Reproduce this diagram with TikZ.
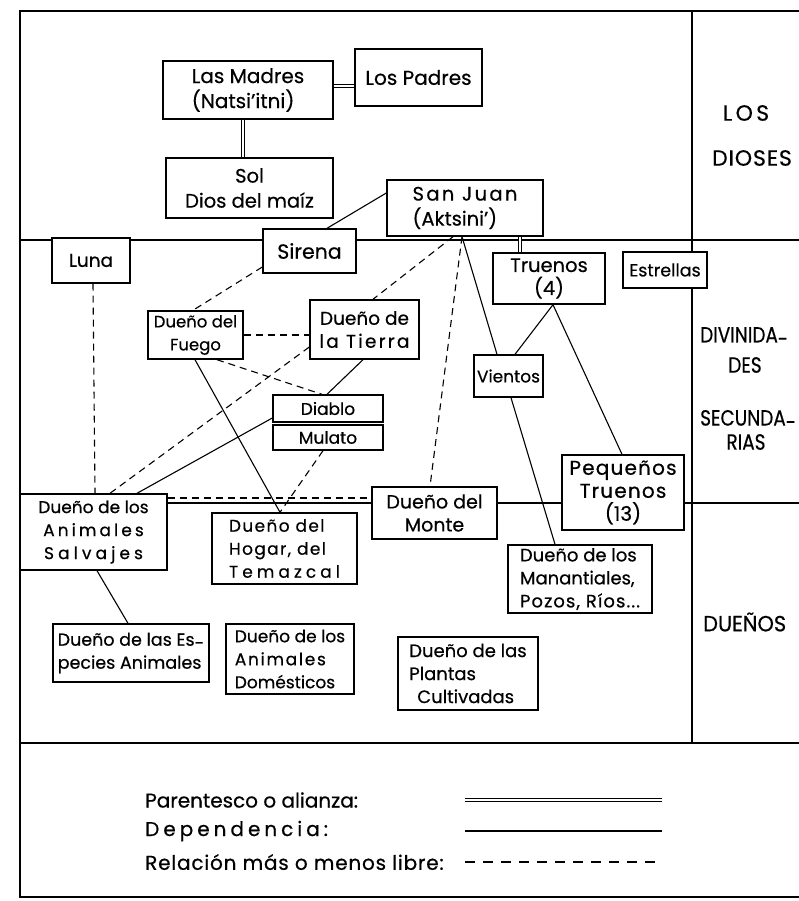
\documentclass[tikz,border=0pt]{standalone}
\usepackage{fontspec}
\setmainfont{Poppins}[FakeBold=0.5]
\usetikzlibrary{calc}
\newcommand\spaced[2][15]{{\addfontfeature{LetterSpace=#1}#2}}
\newcommand\fs[1]{\fontsize{#1}{23}\selectfont}
\newcommand\lowhy{\raisebox{-0.2em}{-}}
\tikzset{
 box/.style={draw, line width=1.4pt, fill=white, inner sep=0pt, font=\fs{17}, align=center},
 dep/.style={line width=1.1pt},
 libre/.style={line width=1.1pt, dash pattern=on 7pt off 5pt},
 parent/.style={double, double distance=2.2pt, line width=0.9pt},
 sect/.style={line width=1.6pt},
 lbl/.style={font=\fontsize{22}{26}\selectfont, align=center, inner sep=0pt},
 leg/.style={font=\fontsize{20}{24}\selectfont, anchor=west, inner sep=0pt},
}
\begin{document}
\begin{tikzpicture}[x=1pt,y=-1pt]
\useasboundingbox[fill=white] (0,0) rectangle (799,901);
\clip (0,0) rectangle (799,901);
% frame and sections
\draw[sect] (820,11) -- (20,11) -- (20,897) -- (820,897);
\draw[sect] (20,240) -- (820,240);
\draw[sect] (20,503) -- (820,503);
\draw[sect] (20,743) -- (820,743);
\draw[sect] (692,11) -- (692,743);
% section labels
\node[lbl] (s1) at (746,113) {\spaced[15]{LOS}};
\node[lbl] (s2) at (752,158) {\spaced[4]{DIOSES}};
\node[lbl, anchor=west] (s3) at (700,337) {\scalebox{0.84}[1]{DIVINIDA\lowhy}};
\node[lbl] (s4) at (745,365) {\scalebox{0.84}[1]{DES}};
\node[lbl, anchor=west] (s5) at (700,420) {\scalebox{0.84}[1]{SECUNDA\lowhy}};
\node[lbl] (s6) at (746,442) {\scalebox{0.84}[1]{RIAS}};
\node[lbl, anchor=west] (s7) at (703,622) {\scalebox{0.95}[1]{DUEÑOS}};
% boxes
\node[box, minimum width=170pt, minimum height=58pt, align=left, font=\fontsize{20}{25}\selectfont] (madres) at (248,90) {Las Madres\\(Natsi’itni)};
\node[box, minimum width=127pt, minimum height=57pt, font=\fs{20}] (padres) at (418.5,77.5) {Los Padres};
\node[box, minimum width=167pt, minimum height=60pt, font=\fontsize{19.5}{25}\selectfont] (sol) at (249.5,188) {Sol\\Dios del maíz};
\node[box, minimum width=156pt, minimum height=56pt, align=left, font=\fontsize{19.5}{25}\selectfont] (sanjuan) at (465,208) {\spaced[12]{San Juan}\\(Aktsini’)};
\node[box, minimum width=93pt, minimum height=44pt, font=\fs{20.5}] (sirena) at (309.5,251) {Sirena};
\node[box, minimum width=78pt, minimum height=45pt, font=\fs{18.5}] (luna) at (91,260.5) {Luna};
\node[box, minimum width=112pt, minimum height=51pt, font=\fs{19.5}] (truenos) at (549,278.5) {Truenos\\(4)};
\node[box, minimum width=84pt, minimum height=36pt, font=\fs{17.5}] (estrellas) at (665,270) {Estrellas};
\node[box, minimum width=95pt, minimum height=48pt, font=\fs{16.5}] (fuego) at (195.5,335) {Dueño del\\Fuego};
\node[box, minimum width=109pt, minimum height=59pt, font=\fs{18.5}] (tierra) at (364.5,329.5) {Dueño de\\\spaced[12]{la Tierra}};
\node[box, minimum width=69pt, minimum height=42pt] (vientos) at (508.5,376) {Vientos};
\node[box, minimum width=110pt, minimum height=27pt] (diablo) at (328,408.5) {Diablo};
\node[box, minimum width=110pt, minimum height=25pt] (mulato) at (328,437.5) {Mulato};
\node[box, minimum width=122pt, minimum height=75pt, font=\fs{20}] (pequenos) at (623,492.5) {\spaced[6]{Pequeños}\\\spaced[6]{Truenos}\\(13)};
\node[box, minimum width=125pt, minimum height=52pt, font=\fs{19}] (monte) at (434.5,513) {Dueño del\\Monte};
\node[box, minimum width=144pt, minimum height=68pt, align=left, font=\fs{18}] (manant) at (580,579) {Dueño de los\\Manantiales,\\\spaced[6]{Pozos, Ríos...}};
\node[box, minimum width=147pt, minimum height=76pt] (salvajes) at (93.5,532) {Dueño de los\\\spaced[18]{Animales}\\\spaced[24]{Salvajes}};
\node[box, minimum width=145pt, minimum height=71pt, align=left] (hogar) at (284.5,548.5) {\spaced[8]{Dueño del}\\\spaced[8]{Hogar, del}\\\spaced[24]{Temazcal}};
\node[box, minimum width=156pt, minimum height=58pt, align=left, font=\fs{17.5}] (especies) at (131,653) {Dueño de las Es\lowhy\\pecies Animales};
\node[box, minimum width=128pt, minimum height=70pt, align=left] (domesticos) at (290,659) {Dueño de los\\\spaced[10]{Animales}\\Domésticos};
\node[box, minimum width=140pt, minimum height=73pt, align=left, font=\fs{18}] (plantas) at (468,673.5) {Dueño de las\\Plantas\\\hspace*{8pt}Cultivadas};
% parentesco
\draw[parent] ([yshift=4pt]madres.east) -- ([yshift=-8.5pt]padres.west);
\draw[parent] ([xshift=-5pt]madres.south) -- ([xshift=-6.5pt]sol.north);
\draw[parent] ([xshift=55pt]sanjuan.south) -- ([xshift=-29pt]truenos.north);
% dependencia
\draw[dep] ([xshift=17.5pt]sirena.north) -- ([yshift=15pt]sanjuan.west);
\draw[dep] ([xshift=-3pt]sanjuan.south) -- ([xshift=-11.5pt]vientos.north);
\draw[dep] ([xshift=2.5pt]vientos.south) -- ([xshift=-25pt]manant.north);
\draw[dep] ([xshift=4pt]truenos.south) -- ([xshift=6.5pt]vientos.north);
\draw[dep] ([xshift=4pt]truenos.south) -- ([xshift=-1pt]pequenos.north);
\draw[dep] ([xshift=-1.5pt]tierra.south) -- ([xshift=-1pt]diablo.north);
\draw[dep] ([xshift=-0.5pt]fuego.south) -- ([xshift=-4.5pt]hogar.north);
\draw[dep] ([yshift=-9.5pt]diablo.west) -- ([xshift=43.5pt]salvajes.north);
\draw[dep] ([xshift=3.5pt]salvajes.south) -- ([xshift=-3pt]especies.north);
% libre
\draw[libre] ([xshift=2pt]luna.south) -- ([xshift=1.5pt]salvajes.north);
\draw[libre] ([yshift=-16pt]sirena.west) -- ([xshift=-2.5pt]fuego.north);
\draw[libre] (fuego.east) -- ([yshift=-5.5pt]tierra.west);
\draw[libre] ([xshift=21.5pt]fuego.south) -- ([xshift=-6pt]diablo.north);
\draw[libre] ([yshift=-17.5pt]tierra.west) -- ([xshift=16.5pt]salvajes.north);
\draw[libre] ([xshift=-12pt]sanjuan.south) -- ([xshift=8.5pt]tierra.north);
\draw[libre] ([xshift=-3pt]sanjuan.south) -- ([xshift=-4.5pt]monte.north);
\draw[libre] ([xshift=-5pt]mulato.south) -- ([xshift=-4.5pt]hogar.north);
\draw[libre] ([yshift=34pt]salvajes.east) -- ([yshift=15pt]monte.west);
% legend
\node[leg] (l1) at (145,800) {Parentesco o alianza:};
\node[leg] (l2) at (145,831) {\spaced[20]{Dependencia:}};
\node[leg] (l3) at (145,862) {\spaced[4]{Relación más o menos libre:}};
\coordinate (a1) at (465,800); \coordinate (b1) at (662,800);
\coordinate (a2) at (465,831); \coordinate (b2) at (662,831);
\coordinate (a3) at (465,862); \coordinate (b3) at (662,862);
\draw[parent, double distance=2.6pt] (a1) -- (b1);
\draw[dep] (a2) -- (b2);
\draw[libre, dash pattern=on 10pt off 8pt] (a3) -- (b3);
\end{tikzpicture}
\end{document}
